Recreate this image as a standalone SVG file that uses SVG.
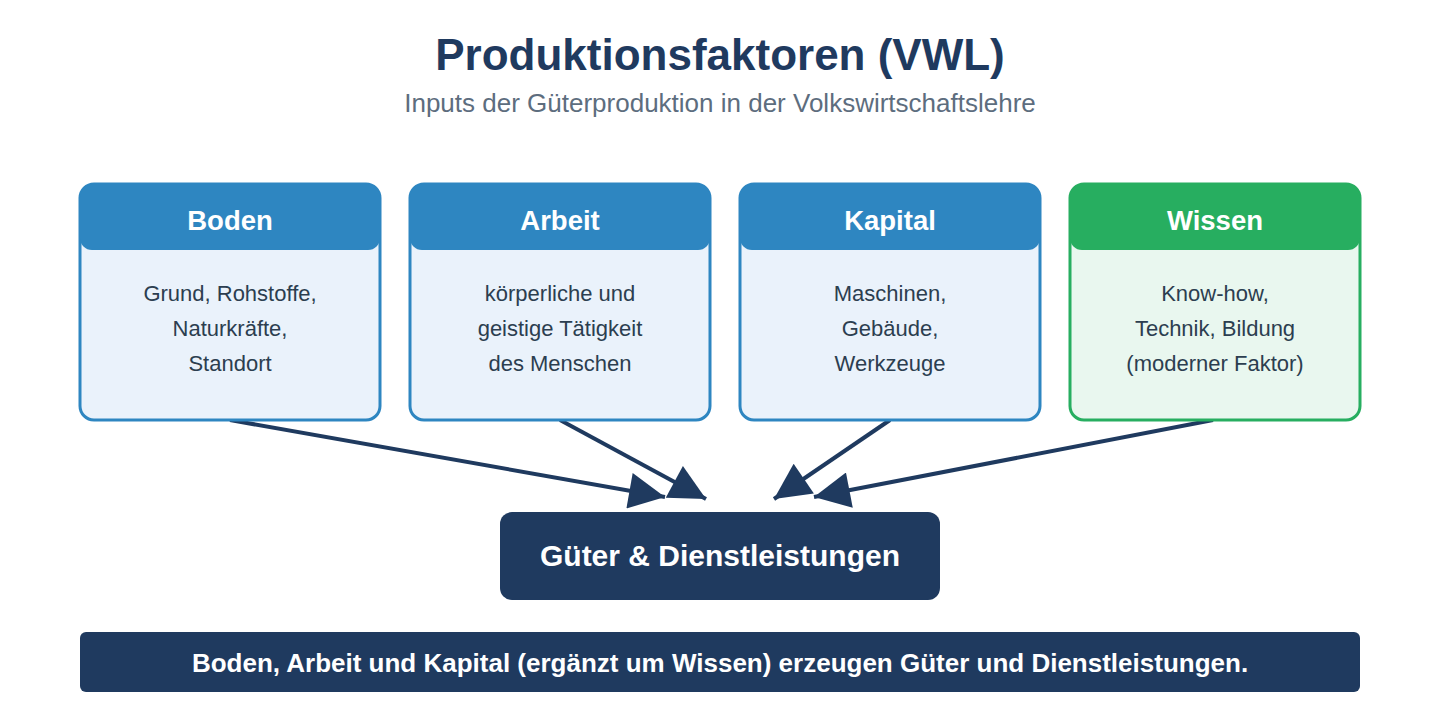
<svg xmlns="http://www.w3.org/2000/svg" width="1440" height="720" viewBox="0 0 1440 720">
<defs>
<style>
.title{font-family:"Liberation Sans",Arial,sans-serif;font-weight:bold;font-size:44px;fill:#1f3a5f;text-anchor:middle}
.sub{font-family:"Liberation Sans",Arial,sans-serif;font-size:26px;fill:#5d6d7e;text-anchor:middle}
.hdr{font-family:"Liberation Sans",Arial,sans-serif;font-weight:bold;font-size:27.5px;fill:#fff;text-anchor:middle}
.body{font-family:"Liberation Sans",Arial,sans-serif;font-size:22px;fill:#2c3e50;text-anchor:middle}
.boxB{fill:#eaf2fb;stroke:#2e86c1;stroke-width:3}
.boxG{fill:#e9f7ef;stroke:#27ae60;stroke-width:3}
.hB{fill:#2e86c1}
.hG{fill:#27ae60}
.conn{stroke:#1f3a5f;stroke-width:4;fill:none;marker-end:url(#ah)}
.dark{fill:#1f3a5f}
.out{font-family:"Liberation Sans",Arial,sans-serif;font-weight:bold;font-size:30px;fill:#fff;text-anchor:middle}
.ban{font-family:"Liberation Sans",Arial,sans-serif;font-weight:bold;font-size:26px;fill:#fff;text-anchor:middle}
</style>
<marker id="ah" viewBox="0 0 10 10" refX="10" refY="5" markerWidth="10" markerHeight="9" markerUnits="strokeWidth" orient="auto">
<path d="M0,0 L10,5 L0,10 z" fill="#1f3a5f"/>
</marker>
</defs>
<rect width="1440" height="720" fill="#fff"/>
<text class="title" x="720" y="70">Produktionsfaktoren (VWL)</text>
<text class="sub" x="720" y="112">Inputs der Güterproduktion in der Volkswirtschaftslehre</text>

<g id="connectors">
<line class="conn" x1="230" y1="420" x2="665" y2="497"/>
<line class="conn" x1="560" y1="420" x2="706" y2="499"/>
<line class="conn" x1="890" y1="420" x2="774" y2="499"/>
<line class="conn" x1="1213" y1="420" x2="814" y2="497"/>
</g>

<g id="boden">
<rect class="boxB" x="80" y="184" width="300" height="236" rx="14"/>
<path class="hB" d="M80,198 a14,14 0 0 1 14,-14 h272 a14,14 0 0 1 14,14 v40 a12,12 0 0 1 -12,12 h-276 a12,12 0 0 1 -12,-12 z"/>
<text class="hdr" x="230" y="230">Boden</text>
<text class="body" x="230" y="301">Grund, Rohstoffe,</text>
<text class="body" x="230" y="336">Naturkräfte,</text>
<text class="body" x="230" y="371">Standort</text>
</g>
<g id="arbeit">
<rect class="boxB" x="410" y="184" width="300" height="236" rx="14"/>
<path class="hB" d="M410,198 a14,14 0 0 1 14,-14 h272 a14,14 0 0 1 14,14 v40 a12,12 0 0 1 -12,12 h-276 a12,12 0 0 1 -12,-12 z"/>
<text class="hdr" x="560" y="230">Arbeit</text>
<text class="body" x="560" y="301">körperliche und</text>
<text class="body" x="560" y="336">geistige Tätigkeit</text>
<text class="body" x="560" y="371">des Menschen</text>
</g>
<g id="kapital">
<rect class="boxB" x="740" y="184" width="300" height="236" rx="14"/>
<path class="hB" d="M740,198 a14,14 0 0 1 14,-14 h272 a14,14 0 0 1 14,14 v40 a12,12 0 0 1 -12,12 h-276 a12,12 0 0 1 -12,-12 z"/>
<text class="hdr" x="890" y="230">Kapital</text>
<text class="body" x="890" y="301">Maschinen,</text>
<text class="body" x="890" y="336">Gebäude,</text>
<text class="body" x="890" y="371">Werkzeuge</text>
</g>
<g id="wissen">
<rect class="boxG" x="1070" y="184" width="290" height="236" rx="14"/>
<path class="hG" d="M1070,198 a14,14 0 0 1 14,-14 h262 a14,14 0 0 1 14,14 v40 a12,12 0 0 1 -12,12 h-266 a12,12 0 0 1 -12,-12 z"/>
<text class="hdr" x="1215" y="230">Wissen</text>
<text class="body" x="1215" y="301">Know-how,</text>
<text class="body" x="1215" y="336">Technik, Bildung</text>
<text class="body" x="1215" y="371">(moderner Faktor)</text>
</g>

<g id="output">
<rect class="dark" x="500" y="512" width="440" height="88" rx="12"/>
<text class="out" x="720" y="566">Güter &amp; Dienstleistungen</text>
</g>

<g id="banner">
<rect class="dark" x="80" y="632" width="1280" height="60" rx="6"/>
<text class="ban" x="720" y="672">Boden, Arbeit und Kapital (ergänzt um Wissen) erzeugen Güter und Dienstleistungen.</text>
</g>
</svg>
